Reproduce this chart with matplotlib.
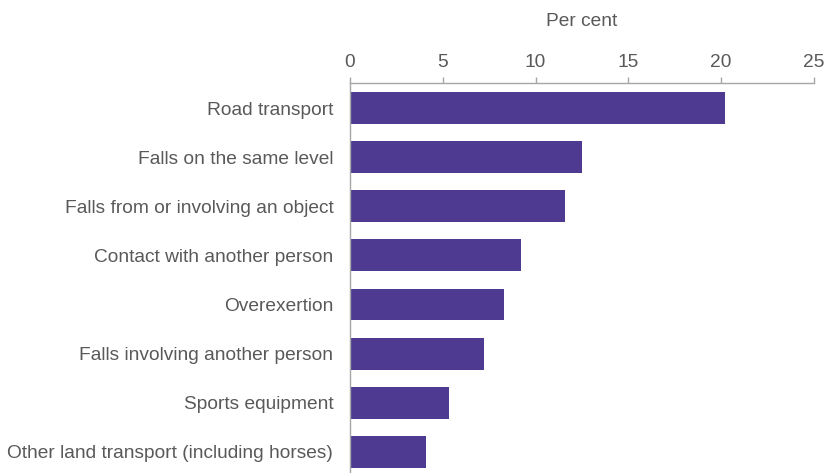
import matplotlib.pyplot as plt

# Share of injury cases by external cause (per cent)
causes = [
    "Road transport",
    "Falls on the same level",
    "Falls from or involving an object",
    "Contact with another person",
    "Overexertion",
    "Falls involving another person",
    "Sports equipment",
    "Other land transport (including horses)",
]
per_cent = [20.2, 12.5, 11.6, 9.2, 8.3, 7.2, 5.35, 4.1]
x_ticks = [0, 5, 10, 15, 20, 25]

bar_color = "#4E3A91"
text_color = "#595959"
axis_color = "#a6a6a6"

plt.rcParams["font.family"] = ["Liberation Sans", "DejaVu Sans"]

fig = plt.figure(figsize=(8.26, 4.73), dpi=100)
ax = fig.add_axes([0.4237, 0.0, 0.5617, 0.8245])

ax.barh(range(len(causes)), per_cent, height=0.65, color=bar_color)

ax.set_xlim(0, 25)
ax.set_ylim(7.43, -0.51)
ax.set_xticks(x_ticks)
ax.set_yticks(range(len(causes)))
ax.set_yticklabels(causes)

ax.xaxis.tick_top()
ax.xaxis.set_label_position("top")
ax.set_xlabel("Per cent", fontsize=13.8, color=text_color, labelpad=20)

ax.tick_params(axis="x", direction="out", length=4, width=1, color=axis_color,
               labelsize=13.8, labelcolor=text_color, pad=4.5)
ax.tick_params(axis="y", length=0, labelsize=13.8, labelcolor=text_color, pad=12)

for side in ["right", "bottom"]:
    ax.spines[side].set_visible(False)
for side in ["top", "left"]:
    ax.spines[side].set_color(axis_color)
    ax.spines[side].set_linewidth(1)

fig.savefig("out.png", dpi=100)
plt.close(fig)
